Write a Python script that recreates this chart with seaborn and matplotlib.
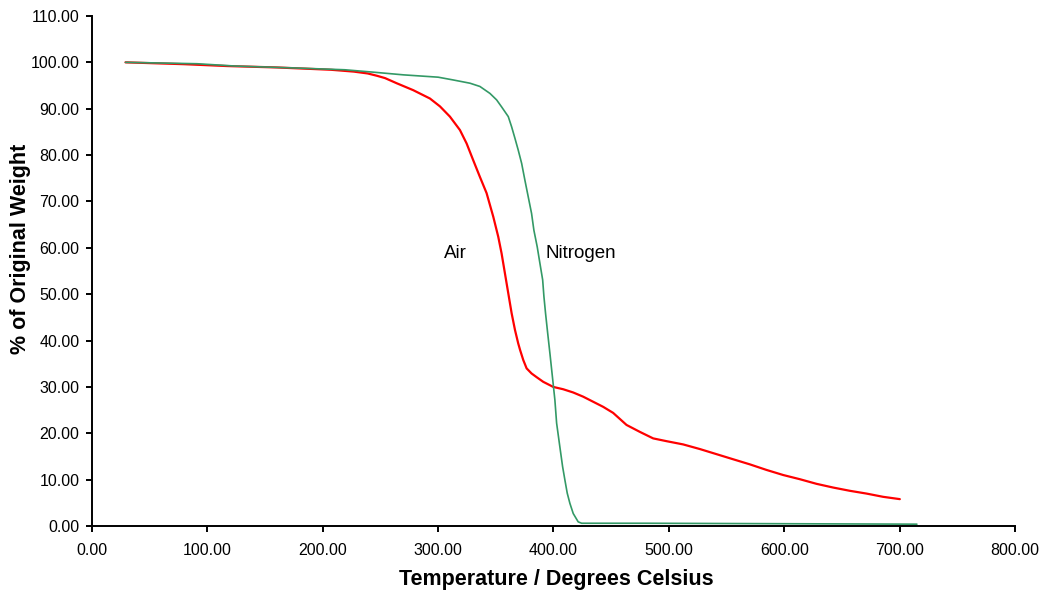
import numpy as np
import pandas as pd
import matplotlib.pyplot as plt
import seaborn as sns
from matplotlib.ticker import FormatStrFormatter, MultipleLocator

# Thermogravimetric curves
air_temp = [29, 80, 117, 160, 207, 227, 239, 247, 254, 264, 278.4, 292.9, 301.6, 310.2,
            318.9, 324.7, 330.4, 336.2, 342, 347.8, 352.1, 355, 357.9, 360.8, 363.7,
            366.6, 369.4, 371, 373.8, 376.7, 381, 385.4, 391.1, 399.8, 408.4, 417.1,
            425.7, 434.4, 443.1, 451.7, 463.3, 474.9, 486.4, 498, 512.4, 526.9, 541.3,
            555.7, 570.2, 584.6, 599.1, 613.5, 628, 642.4, 656.8, 671.3, 685.7, 700.2]
air_weight = [100, 99.6, 99.2, 98.9, 98.4, 98.0, 97.6, 97.1, 96.6, 95.5, 94.0, 92.2, 90.5, 88.3,
              85.4, 82.5, 78.9, 75.3, 71.8, 66.7, 62.4, 58.8, 54.5, 50.2, 45.9,
              42.3, 39.4, 38.0, 35.8, 34.0, 32.9, 32.1, 31.1, 30.0, 29.5, 28.8,
              27.9, 26.8, 25.7, 24.4, 21.8, 20.3, 18.9, 18.3, 17.6, 16.6, 15.5,
              14.4, 13.3, 12.1, 11.0, 10.1, 9.1, 8.3, 7.6, 7.0, 6.3, 5.8]

n2_temp = [29, 91, 124, 174, 219, 243, 270, 300, 313.1, 327.6, 336.2, 344.9, 350.7, 355,
           360.8, 363.7, 366.6, 369.4, 372.4, 375.2, 378.1, 381, 383, 385.9, 388.2, 390.6,
           391.7, 393.1, 395, 397, 398.5, 401.2, 402.7, 405.5, 407.9, 409.9, 411.9, 414.2,
           417.1, 421.4, 424.4, 479, 715]
n2_weight = [100, 99.7, 99.2, 98.8, 98.4, 97.9, 97.3, 96.8, 96.2, 95.5, 94.8, 93.3, 91.9, 90.4,
             88.3, 86.1, 83.6, 81.1, 78.2, 74.6, 71.0, 67.4, 63.8, 60.2, 56.7, 53.1,
             49.5, 45.9, 41.5, 37.0, 33.5, 27.2, 22.2, 17.1, 12.8, 9.9, 7.1, 4.9,
             2.7, 0.9, 0.6, 0.6, 0.4]

curve_labels = ["Air", "Nitrogen"]

air = pd.DataFrame({"temp": air_temp, "weight": air_weight})
n2 = pd.DataFrame({"temp": n2_temp, "weight": n2_weight})

sns.set_style("white")
plt.rcParams['font.family'] = ['Liberation Sans', 'DejaVu Sans']
plt.rcParams['text.color'] = 'black'
plt.rcParams['axes.labelcolor'] = 'black'

fig = plt.figure(figsize=(10.47, 5.96), dpi=100)
ax = fig.add_axes([0.0879, 0.1174, 0.8815, 0.8558])

sns.lineplot(data=air, x="temp", y="weight", color="#ff0000", linewidth=1.6,
             sort=False, estimator=None, ax=ax)
sns.lineplot(data=n2, x="temp", y="weight", color="#339966", linewidth=1.2,
             sort=False, estimator=None, ax=ax)

ax.set_xlim(0, 800)
ax.set_ylim(0, 110)
ax.xaxis.set_major_locator(MultipleLocator(100))
ax.yaxis.set_major_locator(MultipleLocator(10))
ax.xaxis.set_major_formatter(FormatStrFormatter('%.2f'))
ax.yaxis.set_major_formatter(FormatStrFormatter('%.2f'))

for side in ["top", "right"]:
  ax.spines[side].set_visible(False)
for side in ["left", "bottom"]:
  ax.spines[side].set_color("black")
  ax.spines[side].set_linewidth(1.4)

ax.tick_params(axis="both", direction="out", length=4, width=1.4, color="black",
               labelsize=11.5, labelcolor="black", bottom=True, left=True)
ax.tick_params(axis="x", pad=8)
ax.tick_params(axis="y", pad=5)

ax.set_xlabel("Temperature / Degrees Celsius", fontsize=15.5, fontweight="bold", color="black")
ax.set_ylabel("% of Original Weight", fontsize=15.5, fontweight="bold", color="black")
ax.xaxis.set_label_coords(0.503, -0.084)
ax.yaxis.set_label_coords(-0.066, 0.543)

# Curve labels placed beside the curves
ax.text(305, 58.7, curve_labels[0], fontsize=13.5, va="center", ha="left", color="black")
ax.text(393.4, 58.7, curve_labels[1], fontsize=13.5, va="center", ha="left", color="black")

fig.savefig("out.png", dpi=100)
